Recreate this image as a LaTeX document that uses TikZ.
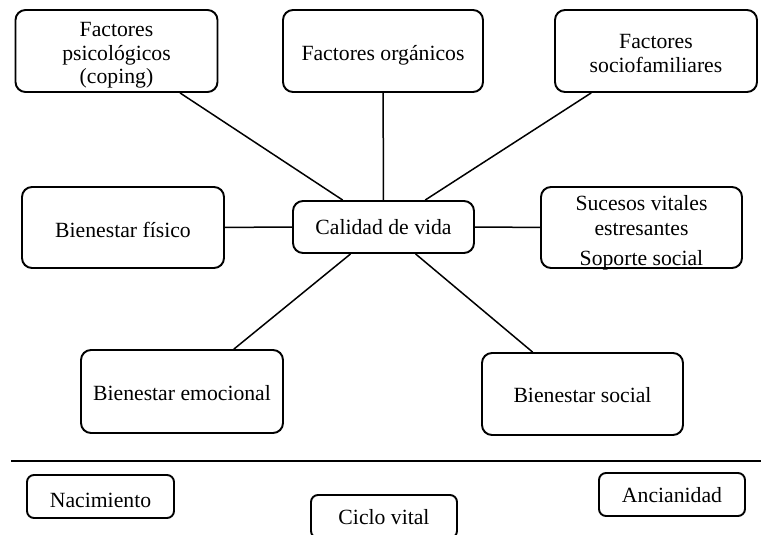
\documentclass[tikz,border=0pt]{standalone}
\usepackage{fontspec}
\setmainfont{Liberation Serif}
\newcommand\dn[2]{\raisebox{-#1pt}[\height][\depth]{#2}}
\begin{document}
\begin{tikzpicture}[x=1pt,y=-1pt,
  box/.style={draw, line width=1.9pt, rounded corners=10pt, inner sep=0pt, align=center,
    font=\fontsize{21.7}{23.5}\selectfont, text=black},
  bigbox/.style={box, minimum width=202pt, minimum height=82pt},
  smallbox/.style={box, rounded corners=7pt, minimum width=146pt, minimum height=43pt},
  link/.style={line width=1.5pt}]
\useasboundingbox (0,0) rectangle (761,535);
\node[bigbox] (psico) at (116.5,51) {\dn{4.5}{Factores}\\\dn{4.5}{psicológicos}\\\dn{4.5}{(coping)}};
\node[bigbox, minimum width=200pt] (organ) at (383,51) {\dn{4}{Factores orgánicos}};
\node[bigbox] (socio) at (656,51) {\dn{2.5}{Factores}\\\dn{2.5}{sociofamiliares}};
\node[bigbox, minimum height=81pt] (fisico) at (123,227.5) {\dn{2}{Bienestar físico}};
\node[box, minimum width=181pt, minimum height=52pt] (calidad) at (383.5,227) {Calidad de vida};
\node[bigbox, minimum width=201pt, minimum height=81pt, font=\fontsize{21.7}{25}\selectfont] (sucesos) at (641.5,227.5) {\dn{5.5}{Sucesos vitales}\\\dn{5.5}{estresantes}\\[5pt]\dn{5.5}{Soporte social}};
\node[bigbox, minimum height=83pt] (emocional) at (182,391.5) {\dn{1.5}{Bienestar emocional}};
\node[bigbox, minimum width=201pt] (social) at (582.5,394) {\dn{1}{Bienestar social}};
\node[smallbox, minimum width=147pt] (nac) at (100.5,496.5) {\dn{4}{Nacimiento}};
\node[smallbox] (ciclo) at (384,516.5) {\dn{1}{Ciclo vital}};
\node[smallbox] (anc) at (672,494.5) {\dn{1}{Ancianidad}};
\draw[link] (psico) -- (calidad);
\draw[link] (organ) -- (calidad);
\draw[link] (socio) -- (calidad);
\draw[link] (fisico) -- (calidad);
\draw[link] (calidad) -- (sucesos);
\draw[link] (calidad) -- (emocional);
\draw[link] (calidad) -- (social);
\coordinate (sepL) at (11,461);
\coordinate (sepR) at (761,461);
\draw[line width=1.9pt] (sepL) -- (sepR);
\end{tikzpicture}
\end{document}
